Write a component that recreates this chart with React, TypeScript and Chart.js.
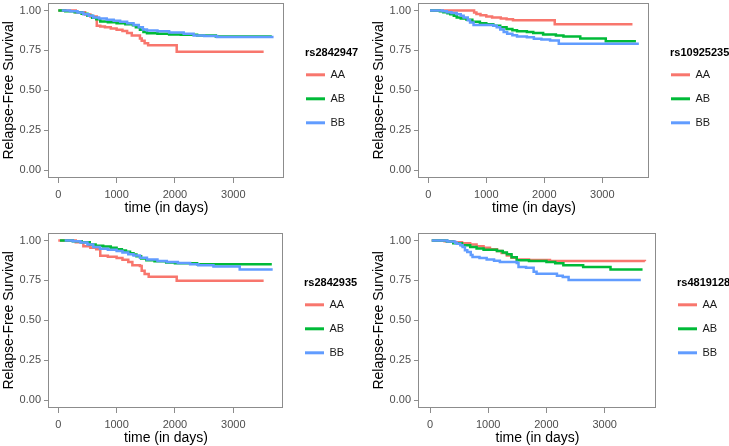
import React, { useEffect, useRef } from "react";
import { Chart, registerables } from "chart.js";

Chart.register(...registerables);
Chart.defaults.font.family = "'Liberation Sans', Arial, sans-serif";

// ---------- data ----------
const groups = ["AA", "AB", "BB"];
const groupColors = ["#F8766D", "#00BA38", "#619CFF"];
const yTickValues = [0, 0.25, 0.5, 0.75, 1];
const xTickValues = [0, 1000, 2000, 3000];
const yTitle = "Relapse-Free Survival";
const xTitle = "time (in days)";

// rs2842947
const rs2842947_AA_t = [0, 300, 460, 550, 660, 720, 800, 900, 1000, 1100, 1180, 1260, 1400, 1430, 1480, 1540, 2030, 3520];
const rs2842947_AA_s = [1.0, 0.99, 0.975, 0.963, 0.905, 0.9, 0.895, 0.888, 0.88, 0.872, 0.86, 0.844, 0.825, 0.81, 0.795, 0.782, 0.742, 0.742];
const rs2842947_AB_t = [0, 120, 280, 400, 500, 580, 650, 720, 850, 1000, 1150, 1280, 1330, 1400, 1460, 1520, 1700, 1900, 2100, 2380, 2700, 3660];
const rs2842947_AB_s = [1.0, 0.996, 0.99, 0.98, 0.968, 0.955, 0.945, 0.932, 0.926, 0.921, 0.915, 0.908, 0.895, 0.88, 0.866, 0.858, 0.854, 0.85, 0.848, 0.844, 0.838, 0.838];
const rs2842947_BB_t = [60, 200, 330, 430, 520, 600, 700, 830, 950, 1060, 1180, 1290, 1380, 1450, 1520, 1700, 1900, 2150, 2320, 2500, 2720, 3690];
const rs2842947_BB_s = [1.0, 0.995, 0.988, 0.977, 0.967, 0.957, 0.95, 0.942, 0.936, 0.93, 0.92, 0.909, 0.895, 0.882, 0.875, 0.87, 0.862, 0.854, 0.844, 0.84, 0.835, 0.835];

// rs10925235
const rs10925235_AA_t = [30, 790, 830, 900, 1000, 1100, 1250, 1350, 1460, 2180, 3520];
const rs10925235_AA_s = [1.0, 0.988, 0.978, 0.97, 0.963, 0.957, 0.95, 0.945, 0.94, 0.915, 0.915];
const rs10925235_AB_t = [30, 200, 260, 330, 380, 440, 490, 560, 660, 760, 890, 1000, 1120, 1240, 1350, 1450, 1530, 1700, 1810, 1980, 2200, 2330, 2620, 3060, 3580];
const rs10925235_AB_s = [1.0, 0.996, 0.99, 0.983, 0.977, 0.967, 0.957, 0.95, 0.942, 0.93, 0.921, 0.915, 0.905, 0.895, 0.885, 0.876, 0.87, 0.866, 0.86, 0.85, 0.844, 0.838, 0.825, 0.807, 0.807];
const rs10925235_BB_t = [30, 250, 320, 400, 490, 560, 610, 680, 720, 780, 1120, 1180, 1240, 1300, 1360, 1450, 1530, 1700, 1820, 1950, 2100, 2250, 3630];
const rs10925235_BB_s = [1.0, 0.996, 0.99, 0.985, 0.977, 0.967, 0.957, 0.94, 0.925, 0.909, 0.905, 0.895, 0.882, 0.866, 0.854, 0.845, 0.838, 0.832, 0.823, 0.818, 0.813, 0.792, 0.792];

// rs2842935
const rs2842935_AA_t = [0, 300, 430, 550, 650, 720, 850, 1000, 1100, 1200, 1270, 1400, 1430, 1480, 1550, 2030, 3520];
const rs2842935_AA_s = [1.0, 0.99, 0.965, 0.955, 0.945, 0.905, 0.898, 0.89, 0.88, 0.865, 0.845, 0.84, 0.81, 0.79, 0.773, 0.748, 0.748];
const rs2842935_AB_t = [30, 250, 400, 540, 640, 770, 900, 1000, 1090, 1160, 1230, 1290, 1340, 1420, 1510, 1650, 1850, 2000, 2380, 3660];
const rs2842935_AB_s = [1.0, 0.996, 0.99, 0.975, 0.968, 0.963, 0.955, 0.946, 0.938, 0.93, 0.921, 0.912, 0.901, 0.888, 0.876, 0.87, 0.862, 0.858, 0.852, 0.852];
const rs2842935_BB_t = [110, 250, 380, 500, 600, 715, 850, 1000, 1100, 1200, 1290, 1400, 1520, 1700, 1860, 2050, 2260, 2400, 2660, 3110, 3675];
const rs2842935_BB_s = [1.0, 0.995, 0.988, 0.975, 0.96, 0.949, 0.942, 0.934, 0.925, 0.915, 0.907, 0.893, 0.881, 0.872, 0.866, 0.86, 0.852, 0.845, 0.837, 0.819, 0.819];

// rs4819128
const rs4819128_AA_t = [30, 250, 400, 550, 690, 800, 920, 1030, 1150, 1230, 1320, 1400, 1490, 1700, 2060, 3690];
const rs4819128_AA_s = [1.0, 0.996, 0.99, 0.983, 0.975, 0.965, 0.955, 0.945, 0.934, 0.922, 0.907, 0.893, 0.881, 0.878, 0.872, 0.87];
const rs4819128_AB_t = [30, 290, 400, 550, 690, 800, 920, 1150, 1250, 1320, 1400, 1490, 1700, 2000, 2150, 2290, 2630, 3100, 3650];
const rs4819128_AB_s = [1.0, 0.994, 0.983, 0.97, 0.959, 0.95, 0.942, 0.934, 0.925, 0.914, 0.895, 0.877, 0.872, 0.866, 0.858, 0.846, 0.835, 0.819, 0.819];
const rs4819128_BB_t = [30, 300, 430, 460, 520, 560, 600, 640, 700, 730, 850, 973, 1100, 1200, 1490, 1520, 1650, 1780, 1830, 2180, 2280, 2380, 3620];
const rs4819128_BB_s = [1.0, 0.994, 0.987, 0.98, 0.97, 0.959, 0.94, 0.928, 0.91, 0.897, 0.89, 0.881, 0.873, 0.866, 0.86, 0.835, 0.83, 0.805, 0.792, 0.78, 0.772, 0.752, 0.752];

type Series = { t: number[]; s: number[] };
type PanelCfg = {
  snp: string;
  series: Series[];
  left: number;
  top: number;
  width: number;
  padLeft: number;
  padRight: number;
  xMin: number;
  xMax: number;
};

const panels: PanelCfg[] = [
  {
    snp: "rs2842947",
    series: [
      { t: rs2842947_AA_t, s: rs2842947_AA_s },
      { t: rs2842947_AB_t, s: rs2842947_AB_s },
      { t: rs2842947_BB_t, s: rs2842947_BB_s },
    ],
    left: 0, top: -7, width: 364, padLeft: 0, padRight: 80, xMin: -159, xMax: 3869,
  },
  {
    snp: "rs10925235",
    series: [
      { t: rs10925235_AA_t, s: rs10925235_AA_s },
      { t: rs10925235_AB_t, s: rs10925235_AB_s },
      { t: rs10925235_BB_t, s: rs10925235_BB_s },
    ],
    left: 364, top: -7, width: 365, padLeft: 6, padRight: 80, xMin: -160, xMax: 3805,
  },
  {
    snp: "rs2842935",
    series: [
      { t: rs2842935_AA_t, s: rs2842935_AA_s },
      { t: rs2842935_AB_t, s: rs2842935_AB_s },
      { t: rs2842935_BB_t, s: rs2842935_BB_s },
    ],
    left: 0, top: 223, width: 364, padLeft: 0, padRight: 81, xMin: -159, xMax: 3852,
  },
  {
    snp: "rs4819128",
    series: [
      { t: rs4819128_AA_t, s: rs4819128_AA_s },
      { t: rs4819128_AB_t, s: rs4819128_AB_s },
      { t: rs4819128_BB_t, s: rs4819128_BB_s },
    ],
    left: 364, top: 223, width: 365, padLeft: 6, padRight: 73, xMin: -189, xMax: 3881,
  },
];

const FRAME = "#8c8c8c";
const FONT = "'Liberation Sans', Arial, sans-serif";

const framePlugin = {
  id: "frame",
  afterDatasetsDraw(chart: any) {
    const { ctx, chartArea: a } = chart;
    ctx.save();
    ctx.strokeStyle = FRAME;
    ctx.lineWidth = 1;
    const l = Math.round(a.left) - 0.5;
    const t = Math.round(a.top) + 0.5;
    const r = Math.round(a.right) - 0.5;
    const b = Math.round(a.bottom) - 0.5;
    ctx.strokeRect(l, t, r - l, b - t);
    ctx.restore();
  },
};

const kmLegendPlugin = {
  id: "kmLegend",
  afterDraw(chart: any, _args: any, opts: any) {
    const { ctx, chartArea: a } = chart;
    const x0 = a.right + 21;
    const cy = (a.top + a.bottom) / 2;
    ctx.save();
    ctx.textBaseline = "middle";
    ctx.textAlign = "left";
    ctx.font = `bold 11px ${FONT}`;
    ctx.fillStyle = "#000";
    ctx.fillText(opts.title, x0, cy - 37);
    chart.data.datasets.forEach((ds: any, i: number) => {
      const y = cy - 15.5 + 24 * i;
      ctx.strokeStyle = ds.borderColor;
      ctx.lineWidth = 3;
      ctx.beginPath();
      ctx.moveTo(x0 + 1, y);
      ctx.lineTo(x0 + 20, y);
      ctx.stroke();
      ctx.font = `11px ${FONT}`;
      ctx.fillStyle = "#1a1a1a";
      ctx.fillText(ds.label, x0 + 25.5, y);
    });
    ctx.restore();
  },
};

function KMPanel({ cfg }: { cfg: PanelCfg }) {
  const ref = useRef<HTMLCanvasElement>(null);
  useEffect(() => {
    const chart = new Chart(ref.current as HTMLCanvasElement, {
      type: "line",
      data: {
        datasets: cfg.series.map((ser, i) => ({
          label: groups[i],
          data: ser.t.map((t, j) => ({ x: t, y: ser.s[j] })),
          borderColor: groupColors[i],
          backgroundColor: groupColors[i],
          borderWidth: 2.5,
          pointRadius: 0,
          stepped: true,
          fill: false,
          order: 2 - i,
        })),
      },
      options: {
        responsive: false,
        animation: false,
        events: [],
        layout: { padding: { left: cfg.padLeft, right: cfg.padRight, top: 7, bottom: 0 } },
        plugins: {
          legend: { display: false },
          tooltip: { enabled: false },
          kmLegend: { title: cfg.snp },
        } as any,
        scales: {
          x: {
            type: "linear",
            min: cfg.xMin,
            max: cfg.xMax,
            afterBuildTicks: (s: any) => {
              s.ticks = xTickValues.map((v) => ({ value: v }));
            },
            afterFit: (s: any) => {
              s.height = 45;
            },
            ticks: {
              callback: (v: any) => String(v),
              font: { size: 11 },
              color: "#4d4d4d",
              padding: 5,
              maxRotation: 0,
              autoSkip: false,
            },
            grid: { drawOnChartArea: false, drawTicks: true, tickLength: 5, color: FRAME },
            border: { display: false },
            title: {
              display: true,
              text: xTitle,
              font: { size: 14 },
              color: "#000",
              padding: { top: 0, bottom: 6.5 },
            },
          },
          y: {
            type: "linear",
            min: -0.05,
            max: 1.05,
            afterBuildTicks: (s: any) => {
              s.ticks = yTickValues.map((v) => ({ value: v }));
            },
            afterFit: (s: any) => {
              s.width = 49;
            },
            ticks: {
              callback: (v: any) => Number(v).toFixed(2),
              font: { size: 11 },
              color: "#4d4d4d",
              padding: 3,
              autoSkip: false,
            },
            grid: { drawOnChartArea: false, drawTicks: true, tickLength: 5, color: FRAME },
            border: { display: false },
            title: {
              display: true,
              text: yTitle,
              font: { size: 14 },
              color: "#000",
              padding: { top: 1, bottom: 0 },
            },
          },
        } as any,
      },
      plugins: [framePlugin, kmLegendPlugin],
    });
    return () => chart.destroy();
  }, [cfg]);
  return (
    <canvas
      ref={ref}
      width={cfg.width}
      height={230}
      style={{ position: "absolute", left: cfg.left, top: cfg.top, display: "block" }}
    />
  );
}

export default function App() {
  return (
    <div
      style={{
        position: "absolute",
        left: 0,
        top: 0,
        width: 729,
        height: 446,
        overflow: "hidden",
        background: "#fff",
      }}
    >
      {panels.map((p) => (
        <KMPanel key={p.snp} cfg={p} />
      ))}
    </div>
  );
}
